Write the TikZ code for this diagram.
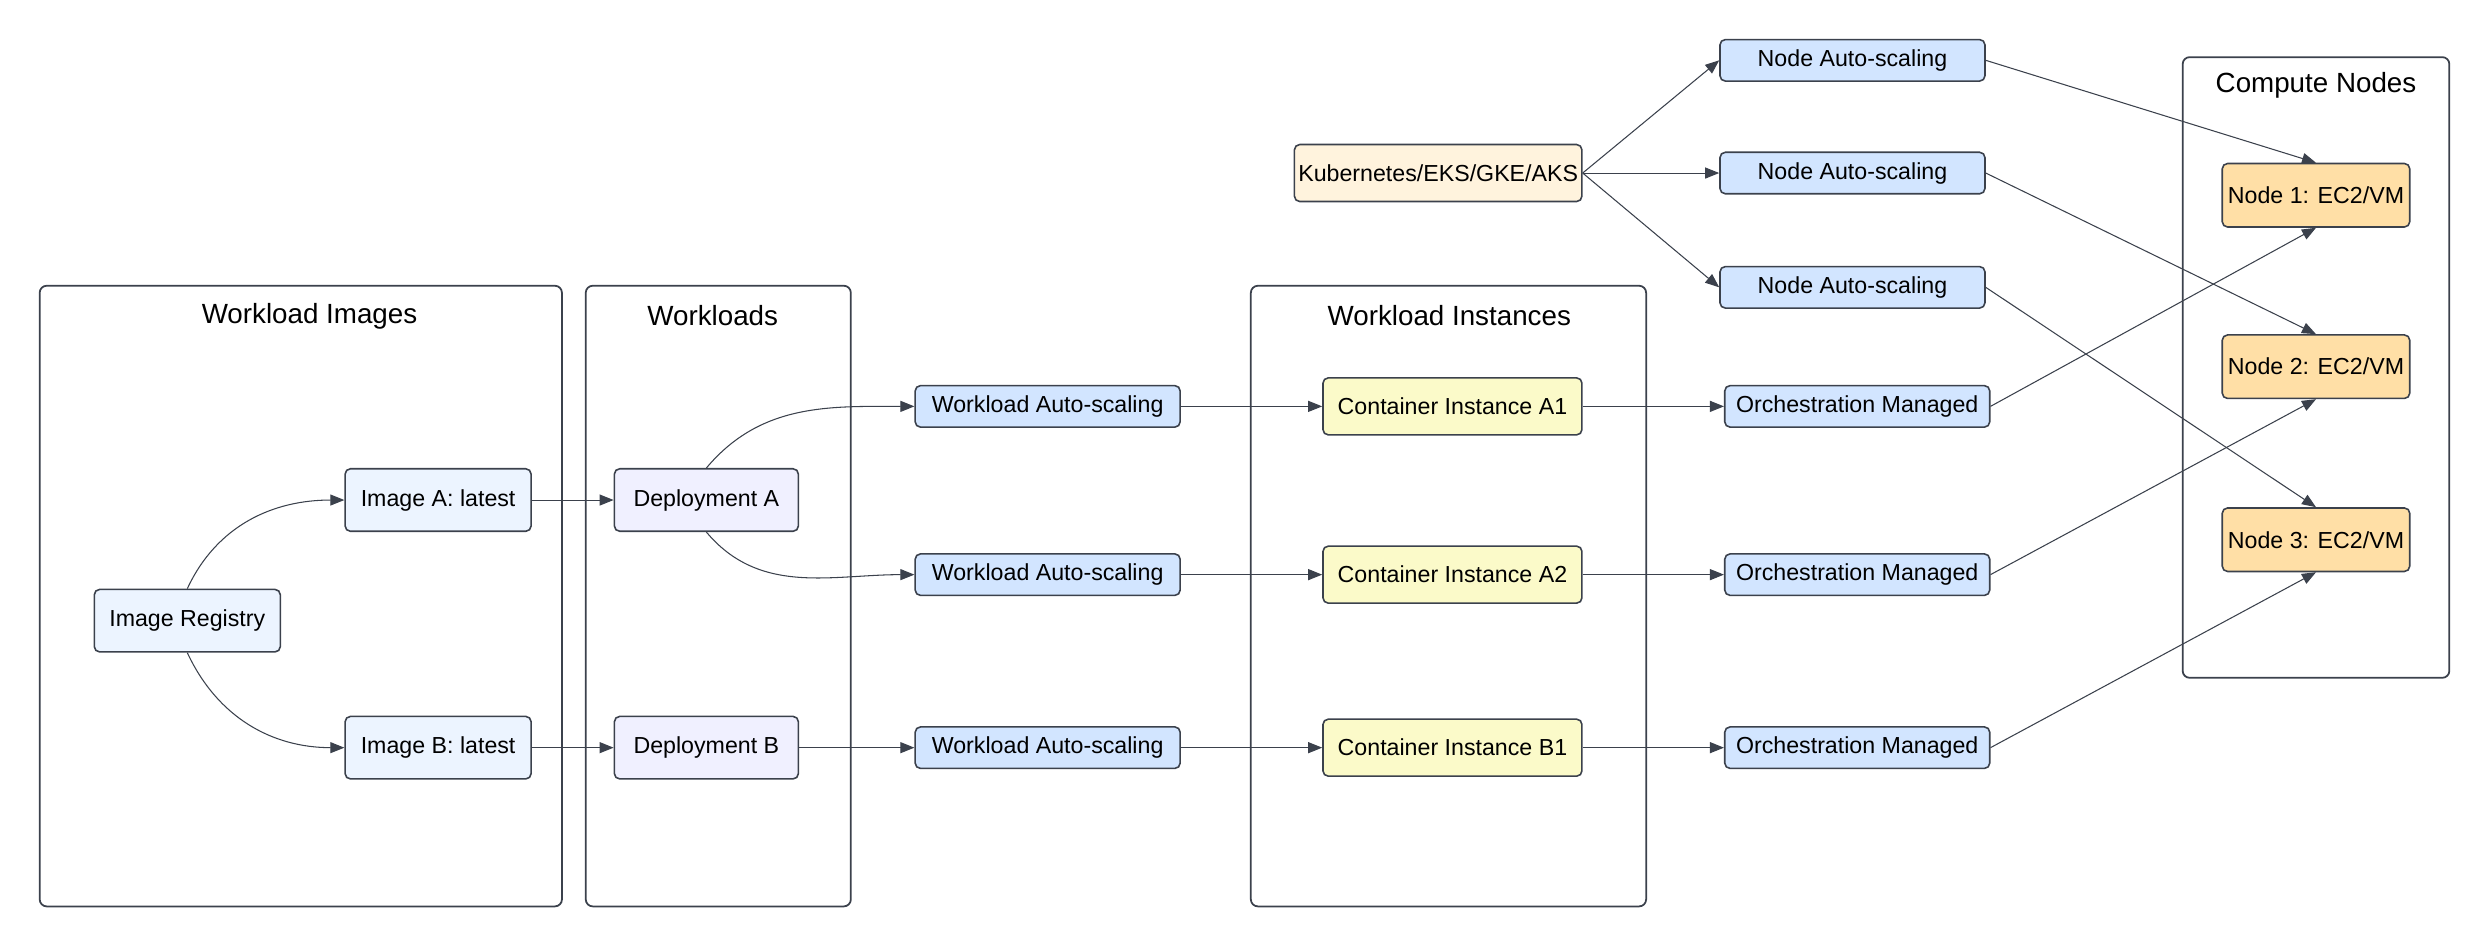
\documentclass[tikz,border=0pt]{standalone}
\usepackage{fontspec}
\setmainfont{Liberation Sans}
\usetikzlibrary{arrows.meta, positioning}

\definecolor{edgegray}{HTML}{3B414C}
\definecolor{imgfill}{HTML}{ECF4FF}
\definecolor{depfill}{HTML}{F0F0FF}
\definecolor{scalefill}{HTML}{D2E5FF}
\definecolor{instfill}{HTML}{FBFAC9}
\definecolor{k8sfill}{HTML}{FFF3DD}
\definecolor{vmfill}{HTML}{FFDFA6}

\begin{document}
\begin{tikzpicture}[
  x=0.03175cm, y=0.03175cm,
  every node/.style={font=\fontsize{13.2}{15}\selectfont},
  box/.style={draw=edgegray, line width=0.9pt, rounded corners=3pt, inner sep=1pt, align=center},
  imgbox/.style={box, fill=imgfill, minimum width=3.72cm, minimum height=1.25cm},
  depbox/.style={box, fill=depfill, minimum width=3.68cm, minimum height=1.25cm},
  scalebox/.style={box, fill=scalefill, minimum width=5.3cm, minimum height=0.83cm},
  instbox/.style={box, fill=instfill, minimum width=5.18cm, minimum height=1.14cm},
  vmbox/.style={box, fill=vmfill, minimum width=3.75cm, minimum height=1.27cm},
  grp/.style={draw=edgegray, line width=1pt, rounded corners=4pt},
  grptitle/.style={font=\fontsize{15.8}{18}\selectfont},
  arr/.style={-{Triangle[length=0.28cm, width=0.22cm]}, edgegray, line width=0.6pt}
]
  \useasboundingbox (0,0) rectangle (1568,-597);

  % groups
  \draw[grp] (25,-180) rectangle (354,-571);
  \draw[grp] (369,-180) rectangle (536,-571);
  \draw[grp] (788,-180) rectangle (1037,-571);
  \draw[grp] (1375,-36) rectangle (1543,-427);
  \node[grptitle] (t-img) at (195,-199) {Workload Images};
  \node[grptitle] (t-wl) at (449,-199) {Workloads};
  \node[grptitle] (t-inst) at (913,-199) {Workload Instances};
  \node[grptitle] (t-comp) at (1459,-54) {Compute Nodes};

  \node[imgbox] (reg) at (118,-391) {Image Registry};
  \node[imgbox] (imgA) at (276,-315) {Image A: latest};
  \node[imgbox] (imgB) at (276,-471) {Image B: latest};
  \node[depbox] (depA) at (445,-315) {Deployment A};
  \node[depbox] (depB) at (445,-471) {Deployment B};

  \node[scalebox] (was1) at (660,-256) {Workload Auto-scaling};
  \node[scalebox] (was2) at (660,-362) {Workload Auto-scaling};
  \node[scalebox] (was3) at (660,-471) {Workload Auto-scaling};

  \node[instbox] (ciA1) at (915,-256) {Container Instance A1};
  \node[instbox] (ciA2) at (915,-362) {Container Instance A2};
  \node[instbox] (ciB1) at (915,-471) {Container Instance B1};

  \node[scalebox] (om1) at (1170,-256) {Orchestration Managed};
  \node[scalebox] (om2) at (1170,-362) {Orchestration Managed};
  \node[scalebox] (om3) at (1170,-471) {Orchestration Managed};

  \node[instbox, fill=k8sfill, minimum width=5.75cm] (k8s) at (906,-109) {Kubernetes/EKS/GKE/AKS};
  \node[scalebox] (nas1) at (1167,-38) {Node Auto-scaling};
  \node[scalebox] (nas2) at (1167,-109) {Node Auto-scaling};
  \node[scalebox] (nas3) at (1167,-181) {Node Auto-scaling};

  \node[vmbox] (vm1) at (1459,-123) {Node 1: EC2/VM};
  \node[vmbox] (vm2) at (1459,-231) {Node 2: EC2/VM};
  \node[vmbox] (vm3) at (1459,-340) {Node 3: EC2/VM};

  \draw[arr] (reg.north) to[out=65, in=180] (imgA.west);
  \draw[arr] (reg.south) to[out=-65, in=180] (imgB.west);
  \draw[arr] (imgA) -- (depA);
  \draw[arr] (imgB) -- (depB);
  \draw[arr] (depA.north) to[out=50, in=180] (was1.west);
  \draw[arr] (depA.south) to[out=-50, in=180] (was2.west);
  \draw[arr] (depB) -- (was3);

  \foreach \i/\c in {1/ciA1, 2/ciA2, 3/ciB1} {
    \draw[arr] (was\i) -- (\c);
    \draw[arr] (\c) -- (om\i);
    \draw[arr] (k8s.east) -- (nas\i.west);
    \draw[arr] (nas\i.east) -- (vm\i.north);
    \draw[arr] (om\i.east) -- (vm\i.south);
  }
\end{tikzpicture}
\end{document}
